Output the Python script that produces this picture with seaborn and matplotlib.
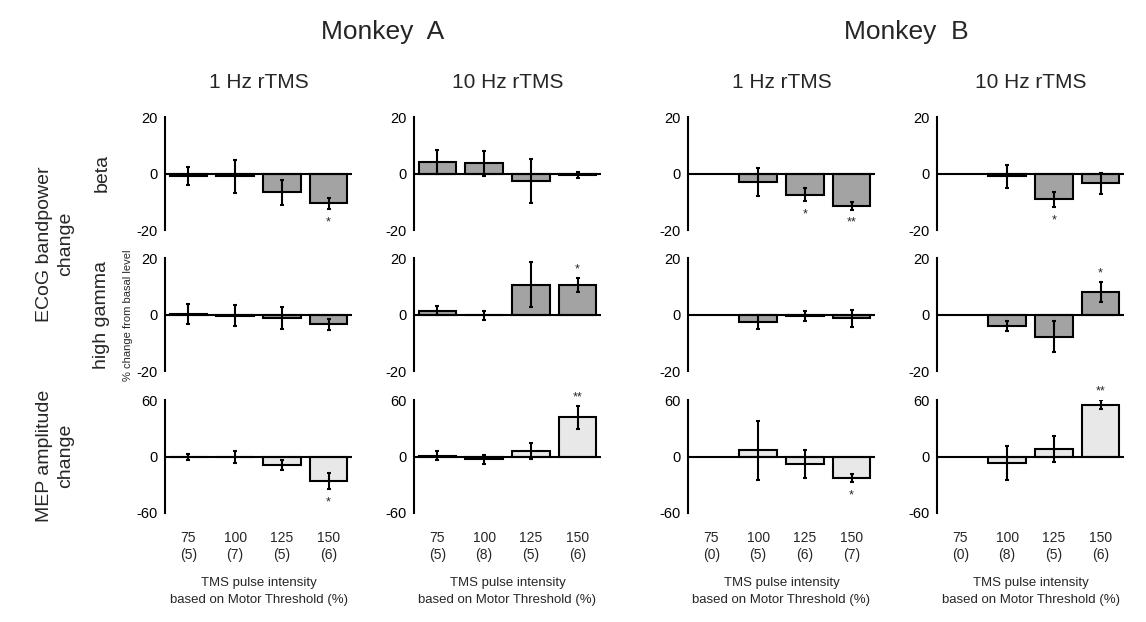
import numpy as np
import pandas as pd
import matplotlib
matplotlib.use("Agg")
import matplotlib.pyplot as plt
import seaborn as sns

sns.set_style("white")
plt.rcParams["font.family"] = ["Liberation Sans", "DejaVu Sans"]

# ---------------- data ----------------
intensities = ["75", "100", "125", "150"]
monkeys = ["Monkey  A", "Monkey  B"]
protocols = ["1 Hz rTMS", "10 Hz rTMS"]

n_A1 = [5, 7, 5, 6]
n_A10 = [5, 8, 5, 6]
n_B1 = [0, 5, 6, 7]
n_B10 = [0, 8, 5, 6]

nan = np.nan
beta_A1 = [-1.0, -1.0, -6.6, -10.6]
beta_A1_err = [3.2, 5.8, 4.4, 2.1]
beta_A10 = [4.2, 3.6, -2.5, -0.5]
beta_A10_err = [4.2, 4.5, 7.8, 1.0]
beta_B1 = [nan, -3.1, -7.6, -11.5]
beta_B1_err = [nan, 4.9, 2.3, 1.3]
beta_B10 = [nan, -1.0, -9.2, -3.5]
beta_B10_err = [nan, 4.0, 2.8, 3.6]

gamma_A1 = [0.2, -0.5, -1.3, -3.5]
gamma_A1_err = [3.4, 3.7, 3.9, 2.0]
gamma_A10 = [1.3, -0.3, 10.6, 10.4]
gamma_A10_err = [1.6, 1.6, 8.0, 2.5]
gamma_B1 = [nan, -2.7, -0.5, -1.3]
gamma_B1_err = [nan, 2.6, 1.8, 3.0]
gamma_B10 = [nan, -4.0, -7.8, 7.9]
gamma_B10_err = [nan, 1.7, 5.5, 3.5]

mep_A1 = [-0.5, -0.7, -9.5, -26.0]
mep_A1_err = [3.5, 6.3, 5.3, 9.0]
mep_A10 = [0.7, -3.0, 5.8, 41.5]
mep_A10_err = [4.9, 4.7, 8.3, 12.0]
mep_B1 = [nan, 6.5, -8.0, -23.0]
mep_B1_err = [nan, 31.0, 15.0, 4.5]
mep_B10 = [nan, -7.0, 8.0, 55.0]
mep_B10_err = [nan, 18.0, 14.0, 5.0]

sig_beta = [["", "", "", "*"], ["", "", "", ""], ["", "", "*", "**"], ["", "", "*", ""]]
sig_gamma = [["", "", "", ""], ["", "", "", "*"], ["", "", "", ""], ["", "", "", "*"]]
sig_mep = [["", "", "", "*"], ["", "", "", "**"], ["", "", "", "*"], ["", "", "", "**"]]

counts = [n_A1, n_A10, n_B1, n_B10]
rows = [
    dict(means=[beta_A1, beta_A10, beta_B1, beta_B10],
         errs=[beta_A1_err, beta_A10_err, beta_B1_err, beta_B10_err],
         sig=sig_beta, lim=20, color="#a3a3a3"),
    dict(means=[gamma_A1, gamma_A10, gamma_B1, gamma_B10],
         errs=[gamma_A1_err, gamma_A10_err, gamma_B1_err, gamma_B10_err],
         sig=sig_gamma, lim=20, color="#a3a3a3"),
    dict(means=[mep_A1, mep_A10, mep_B1, mep_B10],
         errs=[mep_A1_err, mep_A10_err, mep_B1_err, mep_B10_err],
         sig=sig_mep, lim=60, color="#e8e8e8"),
]

# ---------------- layout ----------------
W, H = 1146, 622
fig = plt.figure(figsize=(W / 100, H / 100), dpi=100)
col_left = [165, 414, 688, 937]
col_w = 187
row_top = [117, 258, 400]
row_h = 113


def rect(x, ytop, w, h):
    return [x / W, 1 - (ytop + h) / H, w / W, h / H]


for r, row in enumerate(rows):
    for c in range(4):
        ax = fig.add_axes(rect(col_left[c], row_top[r], col_w, row_h))
        means = row["means"][c]
        errs = row["errs"][c]
        df = pd.DataFrame({"intensity": intensities, "value": means, "err": errs})
        dfv = df.dropna()
        sns.barplot(data=dfv, x="intensity", y="value", order=intensities,
                    color=row["color"], saturation=1, edgecolor="black",
                    linewidth=1.5, errorbar=None, width=0.8, ax=ax, zorder=2)
        xs = [intensities.index(v) for v in dfv["intensity"]]
        ax.errorbar(xs, dfv["value"], yerr=dfv["err"], fmt="none",
                    ecolor="black", elinewidth=1.5, capsize=1.5,
                    capthick=1.5, zorder=4)
        ax.axhline(0, color="black", lw=1.5, zorder=3)
        lim = row["lim"]
        ax.set_ylim(-lim, lim)
        ax.set_xlim(-0.5, 3.5)
        ax.set_yticks([-lim, -lim / 2, 0, lim / 2, lim])
        ax.set_yticklabels([f"-{lim}", "", "0", "", f"{lim}"])
        ax.tick_params(axis="y", direction="out", length=3, width=1.4,
                       labelsize=10.5, pad=2, colors="black")
        ax.set_ylabel("")
        for s in ["top", "right", "bottom"]:
            ax.spines[s].set_visible(False)
        ax.spines["left"].set_linewidth(1.5)
        ax.spines["left"].set_color("black")

        # significance marks
        for i, mark in enumerate(row["sig"][c]):
            if not mark:
                continue
            m, e = means[i], errs[i]
            if m >= 0:
                ax.annotate(mark, (i, m + e), xytext=(0, 2),
                            textcoords="offset points", ha="center",
                            va="bottom", fontsize=9, annotation_clip=False)
            else:
                ax.annotate(mark, (i, m - e), xytext=(0, -5),
                            textcoords="offset points", ha="center",
                            va="top", fontsize=9, annotation_clip=False)

        if r == 2:
            ax.set_xticks(range(4))
            ax.set_xticklabels([f"{v}\n({n})" for v, n in zip(intensities, counts[c])],
                               fontsize=10, linespacing=1.25)
            ax.tick_params(axis="x", length=0, pad=13)
            ax.set_xlabel("TMS pulse intensity\nbased on Motor Threshold (%)",
                          fontsize=9.5, labelpad=11, linespacing=1.55)
        else:
            ax.set_xticks([])
            ax.set_xlabel("")

# column titles
for c in range(4):
    fig.text((col_left[c] + col_w / 2) / W, 1 - 82 / H, protocols[c % 2],
             ha="center", va="center", fontsize=15)

# monkey titles
fig.text(((col_left[0] + col_left[1] + col_w) / 2) / W, 1 - 32 / H, monkeys[0],
         ha="center", va="center", fontsize=19)
fig.text(((col_left[2] + col_left[3] + col_w) / 2) / W, 1 - 32 / H, monkeys[1],
         ha="center", va="center", fontsize=19)

# row labels
fig.text(55 / W, 1 - 244 / H, "ECoG bandpower\nchange", rotation=90,
         ha="center", va="center", fontsize=14, linespacing=1.3)
fig.text(102 / W, 1 - 173 / H, "beta", rotation=90, ha="center",
         va="center", fontsize=14)
fig.text(102 / W, 1 - 315 / H, "high gamma", rotation=90, ha="center",
         va="center", fontsize=14)
fig.text(55 / W, 1 - 456 / H, "MEP amplitude\nchange", rotation=90,
         ha="center", va="center", fontsize=14, linespacing=1.3)
fig.text(128 / W, 1 - 315 / H, "% change from basal level", rotation=90,
         ha="center", va="center", fontsize=8)

fig.savefig("out.png", dpi=100, facecolor="white")
